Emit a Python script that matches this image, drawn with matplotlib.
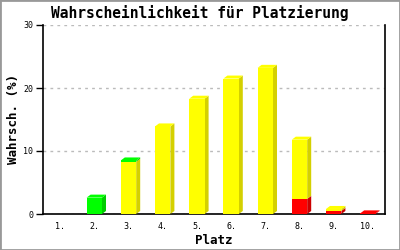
import matplotlib
matplotlib.use("Agg")
from matplotlib import pyplot as plt
from matplotlib.patches import Polygon, Rectangle
import numpy as np

# data
plaetze = ["1.", "2.", "3.", "4.", "5.", "6.", "7.", "8.", "9.", "10."]
rot = [0, 0, 0, 0, 0, 0, 0, 2.4, 0.5, 0.1]
gelb = [0, 0, 8.3, 13.9, 18.3, 21.5, 23.2, 9.4, 0.3, 0]
gruen = [0, 2.6, 0.2, 0, 0, 0, 0, 0, 0, 0]

segments = [(rot, "#FF0000", "#CC0000"),
            (gelb, "#FFFF00", "#D4D000"),
            (gruen, "#00FF00", "#00CC00")]

fig = plt.figure(figsize=(4, 2.5), dpi=100)
ax = fig.add_axes([0.1075, 0.144, 0.855, 0.756])

ax.set_xlim(0.5, 10.5)
ax.set_ylim(0, 30)

w = 0.45
# 3d depth in data units (about 4 px right, 3 px up)
dx = 4 / 34.2
dy = 3 / 6.3

x = np.arange(1, 11)
bottom = np.zeros(10)
tops = np.array(rot) + np.array(gelb) + np.array(gruen)
for vals, front, side in segments:
    vals = np.array(vals, dtype=float)
    for i in range(10):
        if vals[i] <= 0:
            continue
        y0, y1 = bottom[i], bottom[i] + vals[i]
        c = x[i]
        ax.add_patch(Polygon([(c + w / 2, y0), (c + w / 2 + dx, y0 + dy),
                              (c + w / 2 + dx, y1 + dy), (c + w / 2, y1)],
                             closed=True, facecolor=side, edgecolor="none", zorder=3))
        ax.add_patch(Rectangle((c - w / 2, y0), w, vals[i], facecolor=front,
                               edgecolor="none", zorder=4))
        if abs(y1 - tops[i]) < 1e-9:
            ax.add_patch(Polygon([(c - w / 2, y1), (c - w / 2 + dx, y1 + dy),
                                  (c + w / 2 + dx, y1 + dy), (c + w / 2, y1)],
                                 closed=True, facecolor=front, edgecolor="none", zorder=4))
    bottom = bottom + vals

ax.set_xticks(x)
ax.set_xticklabels(plaetze, family="DejaVu Sans Mono", fontsize=6)
ax.set_yticks([0, 10, 20, 30])
ax.set_yticklabels(["0", "10", "20", "30"], family="DejaVu Sans Mono", fontsize=6)
ax.tick_params(axis="x", length=0, pad=6)
ax.tick_params(axis="y", length=5, width=1, pad=2)

ax.yaxis.grid(True, linestyle=(0, (2, 3)), color="#BBBBBB", linewidth=1)
ax.set_axisbelow(True)

ax.spines["top"].set_visible(False)
for s in ["left", "bottom", "right"]:
    ax.spines[s].set_linewidth(1.2)

ax.set_title("Wahrscheinlichkeit für Platzierung", family="DejaVu Sans Mono",
             fontweight="bold", fontsize=10.5, pad=5, x=0.459)
ax.set_xlabel("Platz", family="DejaVu Sans Mono", fontweight="bold", fontsize=9, labelpad=2)
ax.set_ylabel("Wahrsch. (%)", family="DejaVu Sans Mono", fontweight="bold", fontsize=9, labelpad=2)

fig.patches.append(Rectangle((0, 0), 1, 1, transform=fig.transFigure, fill=False,
                             edgecolor="#999999", linewidth=2))

fig.savefig("out.png", dpi=100)
